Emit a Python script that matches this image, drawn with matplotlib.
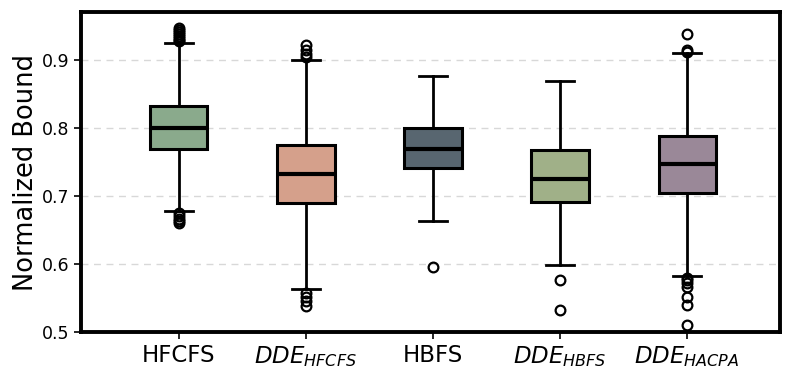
import matplotlib
matplotlib.use("Agg")
import matplotlib.pyplot as plt

labels = ["HFCFS", r"$DDE_{HFCFS}$", "HBFS", r"$DDE_{HBFS}$", r"$DDE_{HACPA}$"]
medians = [0.801, 0.732, 0.770, 0.726, 0.747]
q1 = [0.770, 0.690, 0.742, 0.692, 0.705]
q3 = [0.833, 0.775, 0.800, 0.768, 0.788]
whislo = [0.678, 0.564, 0.663, 0.599, 0.582]
whishi = [0.926, 0.901, 0.877, 0.870, 0.911]
fliers = [
    [0.948, 0.945, 0.942, 0.939, 0.936, 0.933, 0.930, 0.928, 0.675, 0.671, 0.667, 0.663, 0.660],
    [0.922, 0.915, 0.910, 0.905, 0.558, 0.552, 0.546, 0.538],
    [0.595],
    [0.577, 0.533],
    [0.939, 0.915, 0.913, 0.580, 0.576, 0.572, 0.567, 0.552, 0.540, 0.510],
]
colors = ["#8aaa8c", "#d5a08b", "#586670", "#a0b088", "#9a8898"]
yticks = [0.5, 0.6, 0.7, 0.8, 0.9]

stats = []
for i in range(len(labels)):
    stats.append(dict(med=medians[i], q1=q1[i], q3=q3[i], whislo=whislo[i],
                      whishi=whishi[i], fliers=fliers[i], label=labels[i]))

fig = plt.figure(figsize=(7.97, 3.78), dpi=100)
ax = fig.add_axes([0.1016, 0.1217, 0.877, 0.846])
bp = ax.bxp(stats, positions=range(1, len(labels) + 1), widths=0.45, patch_artist=True,
            boxprops=dict(linewidth=2.2, edgecolor="black"),
            medianprops=dict(color="black", linewidth=3),
            whiskerprops=dict(color="black", linewidth=2),
            capprops=dict(color="black", linewidth=2),
            flierprops=dict(marker="o", markerfacecolor="none", markeredgecolor="black",
                            markersize=7, markeredgewidth=1.6))
for patch, c in zip(bp["boxes"], colors):
    patch.set_facecolor(c)

ax.set_xlim(0.23, 5.73)
ax.set_ylim(0.5, 0.971)
ax.set_yticks(yticks)
ax.set_yticklabels([f"{v:.1f}" for v in yticks], fontsize=12.5)
ax.set_xticks(range(1, len(labels) + 1))
ax.set_xticklabels(labels, fontsize=16.5)
ax.set_ylabel("Normalized Bound", fontsize=18.5, labelpad=2)
ax.yaxis.grid(True, linestyle=(0, (5, 4)), color="#d8d8d8", linewidth=1)
ax.set_axisbelow(True)
for s in ax.spines.values():
    s.set_linewidth(2.8)
ax.tick_params(axis="both", width=1.2, length=5)
fig.savefig("out.png", dpi=100)
